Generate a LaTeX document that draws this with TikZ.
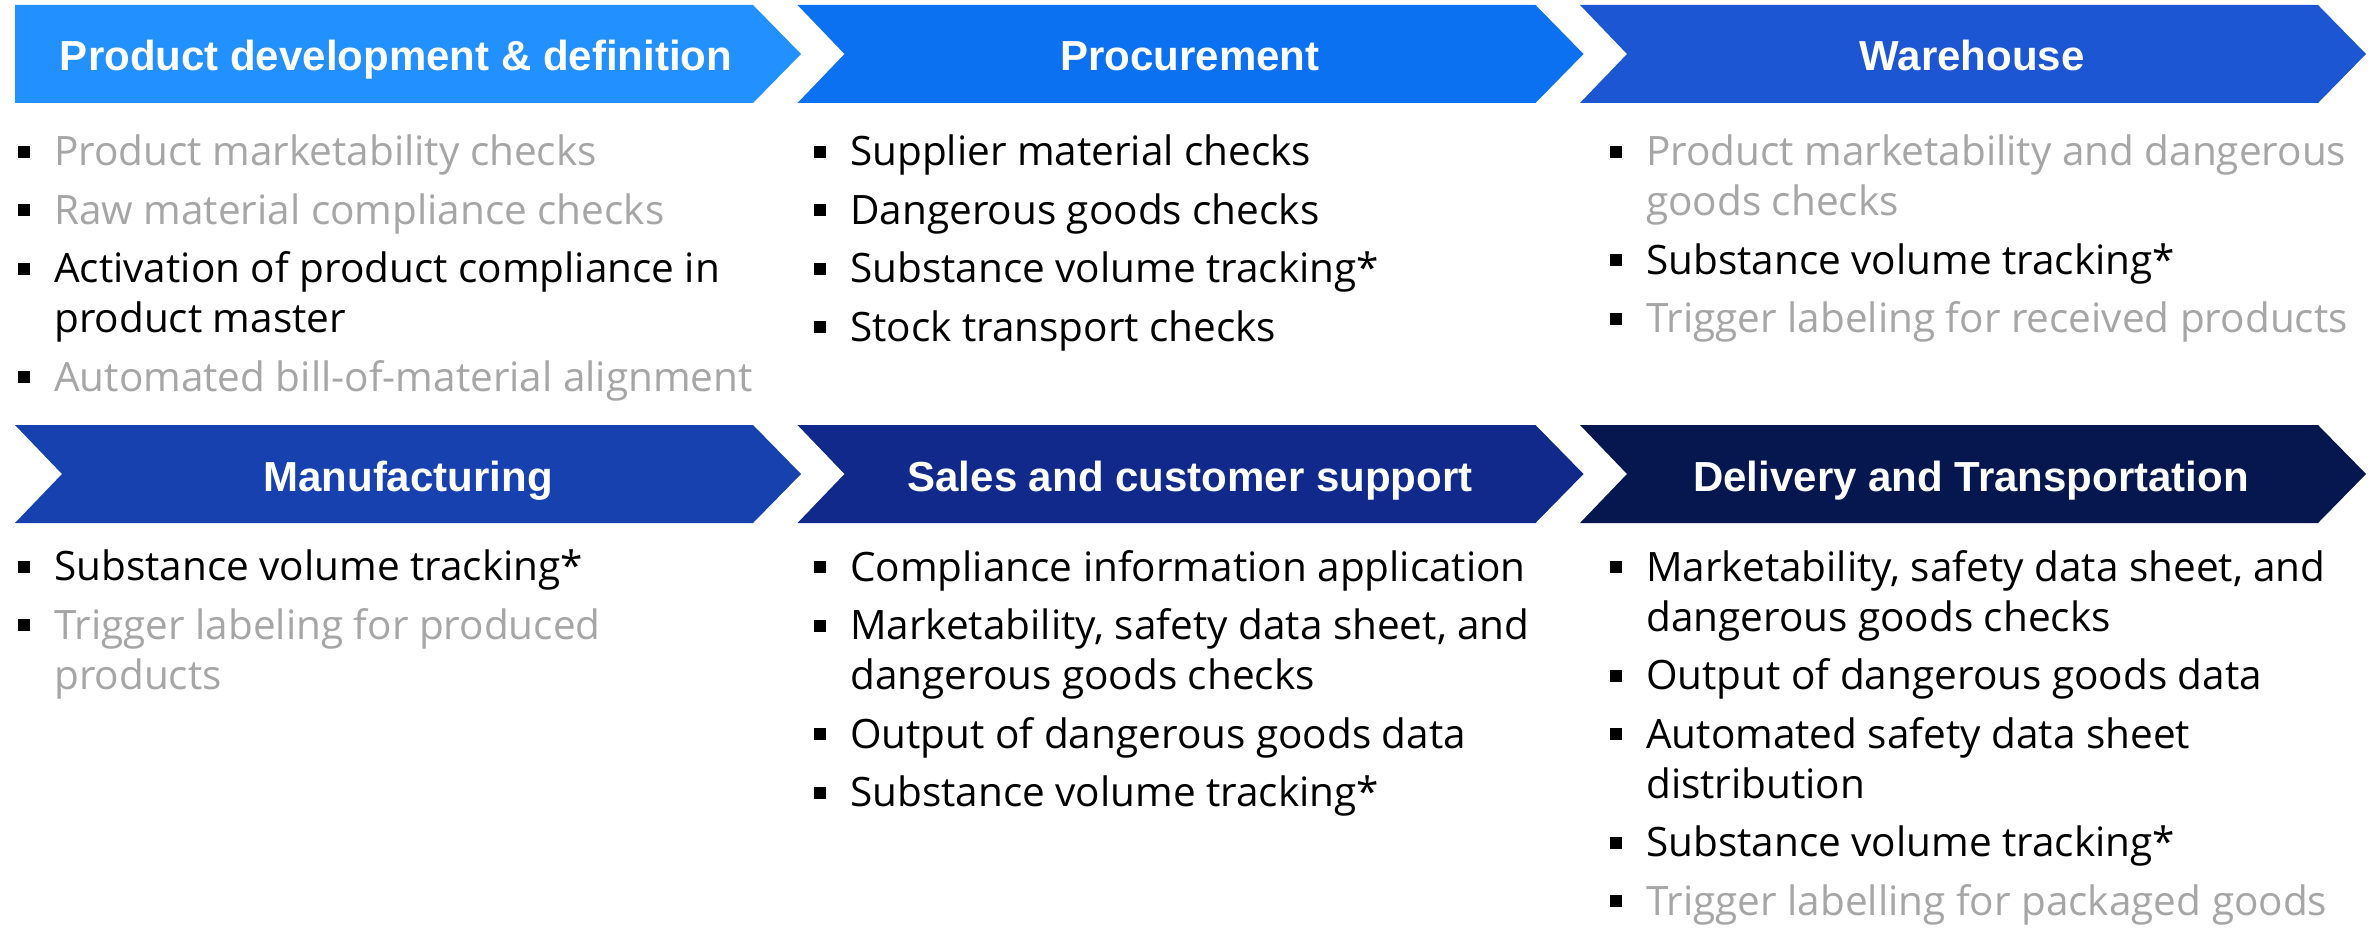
\documentclass[tikz,border=0pt]{standalone}
\usepackage{fontspec}
\setmainfont{Open Sans}
\newfontfamily\headfont{Liberation Sans}
\usetikzlibrary{positioning}
\definecolor{devblue}{HTML}{2290FF}
\definecolor{procblue}{HTML}{0B71F0}
\definecolor{wareblue}{HTML}{1C56D2}
\definecolor{manublue}{HTML}{1741AE}
\definecolor{salesblue}{HTML}{10298A}
\definecolor{delivblue}{HTML}{06164F}
\definecolor{txtgrey}{HTML}{A6A6A6}
\tikzset{
head/.style={font=\headfont\bfseries\fontsize{42}{42}\selectfont,text=white,inner sep=0pt,anchor=base},
items/.style={font=\fontsize{40.5}{50}\selectfont,align=left,inner sep=0pt,anchor=north west,
  execute at begin node=\rule{0pt}{34pt}},
}
% chevron: left x, top y, colour, notch depth
\newcommand{\chev}[4]{\fill[#3] (#1,#2) -- (#1+738,#2) -- (#1+786,#2+49)
  -- (#1+738,#2+98) -- (#1,#2+98) -- (#1+#4,#2+49) -- cycle;}
\newcommand{\blt}{\llap{\rule[8pt]{12pt}{12pt}\hspace{24pt}}}
\newcommand{\gr}[1]{\textcolor{txtgrey}{#1}}

\begin{document}
\begin{tikzpicture}[x=1pt,y=-1pt]
\fill[white] (0,0) rectangle (2377,928);
\useasboundingbox (0,0) rectangle (2377,928);
% row 1
\chev{15}{5}{devblue}{0}
\chev{797.5}{5}{procblue}{47}
\chev{1580}{5}{wareblue}{47}
\node[head] (dev) at (396,71) {Product development \& definition};
\node[head] (proc) at (1190,71) {Procurement};
\node[head] (ware) at (1972,71) {Warehouse};
% row 2
\chev{15}{425}{manublue}{47}
\chev{797.5}{425}{salesblue}{47}
\chev{1580}{425}{delivblue}{47}
\node[head] (manu) at (408,491) {Manufacturing};
\node[head] (sales) at (1190,491) {Sales and customer support};
\node[head] (deliv) at (1971,491) {Delivery and Transportation};
% lists (first baseline 34pt below the anchor)
\node[items] (devlist) at (54,135) {\blt\gr{Product marketability checks}\\[8.5pt]
  \blt\gr{Raw material compliance checks}\\[8.5pt]
  \blt Activation of product compliance in\\
  product master\\[8.5pt]
  \blt\gr{Automated bill-of-material alignment}};
\node[items] (proclist) at (850,135) {\blt Supplier material checks\\[8.5pt]
  \blt Dangerous goods checks\\[8.5pt]
  \blt Substance volume tracking*\\[8.5pt]
  \blt Stock transport checks};
\node[items] (warelist) at (1646,135) {\blt\gr{Product marketability and dangerous}\\
  \gr{goods checks}\\[8.5pt]
  \blt Substance volume tracking*\\[8.5pt]
  \blt\gr{Trigger labeling for received products}};
\node[items] (manulist) at (54,550) {\blt Substance volume tracking*\\[8.5pt]
  \blt\gr{Trigger labeling for produced}\\
  \gr{products}};
\node[items] (saleslist) at (850,550) {\blt Compliance information application\\[8.5pt]
  \blt Marketability, safety data sheet, and\\
  dangerous goods checks\\[8.5pt]
  \blt Output of dangerous goods data\\[8.5pt]
  \blt Substance volume tracking*};
\node[items] (delivlist) at (1646,550) {\blt Marketability, safety data sheet, and\\
  dangerous goods checks\\[8.5pt]
  \blt Output of dangerous goods data\\[8.5pt]
  \blt Automated safety data sheet\\
  distribution\\[8.5pt]
  \blt Substance volume tracking*\\[8.5pt]
  \blt\gr{Trigger labelling for packaged goods}};
\end{tikzpicture}
\end{document}
